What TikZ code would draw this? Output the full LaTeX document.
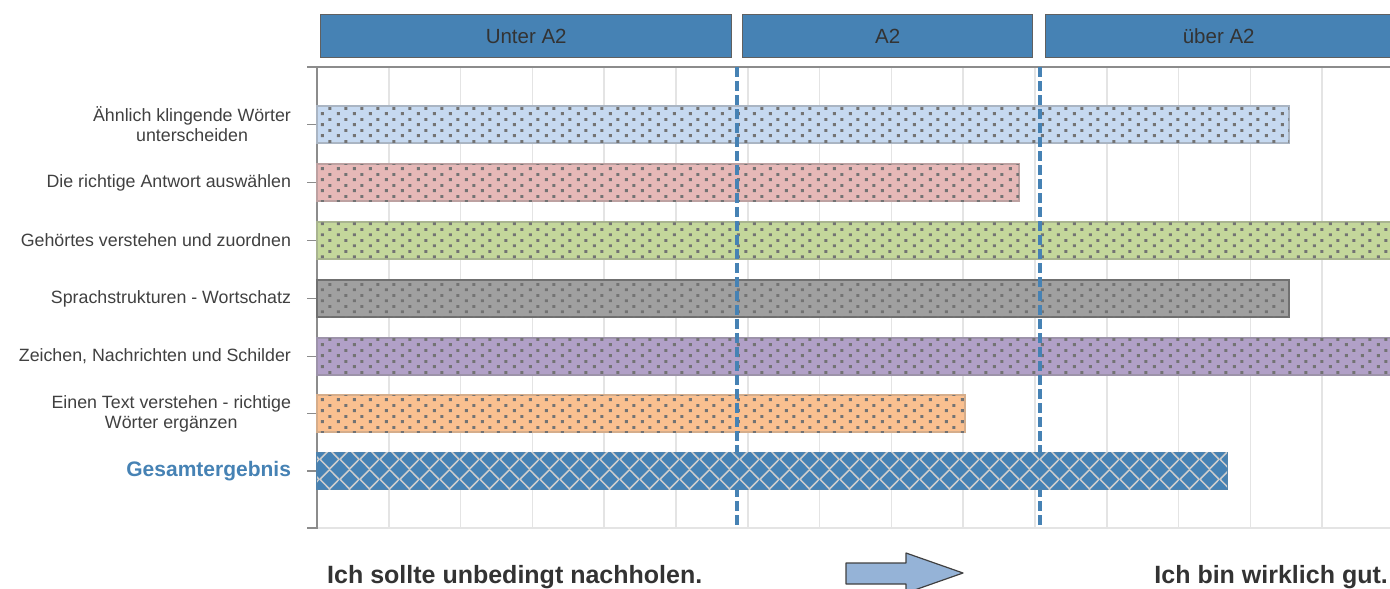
\documentclass[tikz,border=0pt]{standalone}
\usepackage{fontspec}
\setmainfont{Liberation Sans}
\usepackage{xcolor}
\usetikzlibrary{patterns.meta}
\definecolor{levelblue}{RGB}{70,130,180}
\definecolor{textgray}{RGB}{64,64,64}
\definecolor{gridgray}{RGB}{228,228,228}
\definecolor{axisgray}{RGB}{140,140,140}
\definecolor{dotgray}{RGB}{115,115,115}
\definecolor{hatchgray}{RGB}{205,205,205}
\definecolor{barblue}{RGB}{198,217,240}
\definecolor{barred}{RGB}{230,184,183}
\definecolor{bargreen}{RGB}{196,215,155}
\definecolor{bargray}{RGB}{160,160,160}
\definecolor{barpurple}{RGB}{177,160,199}
\definecolor{barorange}{RGB}{250,192,144}
\definecolor{arrowblue}{RGB}{149,179,215}

\tikzdeclarepattern{
  name=bardots, type=uncolored,
  bottom left={(0pt,0pt)}, top right={(16pt,11pt)},
  tile size={(16pt,11pt)},
  code={
    \fill (1pt,1pt) rectangle (4pt,4pt);
    \fill (9pt,6.5pt) rectangle (12pt,9.5pt);
  }
}
\tikzdeclarepattern{
  name=barhatch, type=uncolored,
  bottom left={(0pt,0pt)}, top right={(20pt,20pt)},
  tile size={(20pt,20pt)},
  code={
    \draw[line width=1.6pt] (0pt,10pt) -- (10pt,20pt) -- (20pt,10pt) -- (10pt,0pt) -- cycle;
  }
}

\begin{document}
\begin{tikzpicture}[x=1pt, y=-1pt,
  catlabel/.style={anchor=east, align=center, text=textgray, font=\fontsize{17.8}{20}\selectfont},
  levelbox/.style={draw=gray!75!black, line width=1.4pt, fill=levelblue, text=black!80, font=\fontsize{20.5}{24}\selectfont, minimum height=43pt, inner sep=0pt, anchor=north west},
  bar/.style={anchor=west, minimum height=37pt, inner sep=0pt, outer sep=0pt, line width=1.3pt},
  dotbar/.style={bar, postaction={pattern=bardots, pattern color=dotgray}},
  gridline/.style={draw=gridgray, line width=1.5pt},
  axisline/.style={draw=axisgray, line width=1.3pt},
  levelline/.style={draw=levelblue, line width=3.3pt, dash pattern=on 10pt off 4pt},
  bottomtext/.style={text=textgray!80!black, font=\fontsize{25}{28}\selectfont\bfseries, inner sep=0pt}]
\useasboundingbox (0,0) rectangle (1390,589);
\clip (0,0) rectangle (1390,589);

% Grid
\foreach \k in {1,...,15}
  \draw[gridline] ({317+71.8*\k},67) -- ({317+71.8*\k},528);
\draw[axisline] (307,67) -- (1395,67);
\draw[gridline] (317,528) -- (1395,528);
\draw[axisline] (317,67) -- (317,529);
\foreach \y in {67,124.5,182.5,240.5,298.5,356.5,413.5,471,528}
  \draw[axisline] (307,\y) -- (317,\y);

% Skill bars
\node[dotbar, fill=barblue, draw=barblue!60!gray, minimum width=972pt] (b1) at (317,124.5) {};
\node[dotbar, fill=barred, draw=barred!60!gray, minimum width=702pt] (b2) at (317,182.5) {};
\node[dotbar, fill=bargreen, draw=bargreen!60!gray, minimum width=1085pt] (b3) at (317,240.5) {};
\node[dotbar, fill=bargray, draw=bargray!70!black, minimum width=972pt] (b4) at (317,298.5) {};
\node[dotbar, fill=barpurple, draw=barpurple!60!gray, minimum width=1085pt] (b5) at (317,356.5) {};
\node[dotbar, fill=barorange, draw=barorange!70!gray, minimum width=648pt] (b6) at (317,413.5) {};

% Level borders
\coordinate (a2top) at (737,67);
\coordinate (a2bot) at (737,528);
\coordinate (b1top) at (1040,67);
\coordinate (b1bot) at (1040,528);
\draw[levelline] (a2top) -- (a2bot);
\draw[levelline] (b1top) -- (b1bot);

% Overall result
\node[bar, fill=levelblue, draw=levelblue!85!gray, minimum width=910pt,
  postaction={pattern=barhatch, pattern color=hatchgray}] (total) at (317,471) {};

% Category labels
\node[catlabel] (l1) at (294.5,124.5) {Ähnlich klingende Wörter\\unterscheiden};
\node[catlabel] (l2) at (294.5,182.5) {Die richtige Antwort auswählen};
\node[catlabel] (l3) at (294.5,240.5) {Gehörtes verstehen und zuordnen};
\node[catlabel] (l4) at (294.5,298.5) {Sprachstrukturen - Wortschatz};
\node[catlabel] (l5) at (294.5,356.5) {Zeichen, Nachrichten und Schilder};
\node[catlabel] (l6) at (294.5,413.5) {Einen Text verstehen - richtige\\Wörter ergänzen};
\node[catlabel, text=levelblue, font=\fontsize{21}{24}\selectfont\bfseries] (l7) at (294.5,471) {Gesamtergebnis};

% Level headers
\node[levelbox, minimum width=411pt] (h1) at (320,14) {Unter A2};
\node[levelbox, minimum width=290pt] (h2) at (742,14) {A2};
\node[levelbox, minimum width=346pt] (h3) at (1045,14) {über A2};

% Bottom line
\node[bottomtext, anchor=base west] (low) at (327,583) {Ich sollte unbedingt nachholen.};
\node[bottomtext, anchor=base east] (high) at (1388,583) {Ich bin wirklich gut.};
\draw[draw=textgray, fill=arrowblue, line width=1.2pt, line join=round]
  (846,563) -- (906,563) -- (906,553) -- (963,573) -- (906,593) -- (906,584) -- (846,584) -- cycle;
\end{tikzpicture}
\end{document}
